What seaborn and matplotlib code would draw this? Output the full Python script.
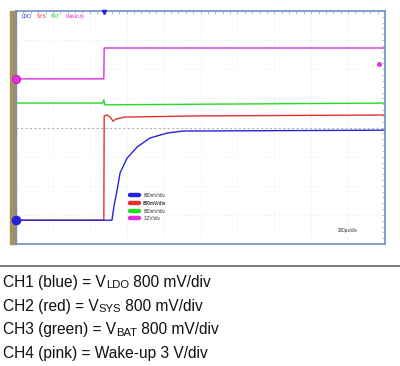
import matplotlib
matplotlib.use("Agg")
import matplotlib.pyplot as plt
import seaborn as sns
import pandas as pd

## scope traces: x in divisions (200us/div), y in divisions from screen centre
blue_t = [0, 2.60, 2.66, 2.74, 2.82, 3.01, 3.28, 3.63, 4.09, 4.53, 10]
blue_v = [-3.18, -3.18, -2.66, -2.15, -1.56, -1.05, -0.67, -0.36, -0.19, -0.12, -0.09]
red_t = [0, 2.38, 2.39, 2.47, 2.55, 2.63, 2.71, 2.95, 4.99, 10]
red_v = [-3.18, -3.18, 0.40, 0.43, 0.36, 0.22, 0.29, 0.36, 0.40, 0.43]
green_t = [0, 2.35, 2.38, 2.41, 10]
green_v = [0.84, 0.84, 0.95, 0.78, 0.84]
pink_t = [0, 2.38, 2.39, 10]
pink_v = [1.67, 1.67, 2.73, 2.73]

ch_names = ["LDO", "SYS", "BAT", "WakeUp"]
ch_scales = ["800mV/div", "800mV/div", "800mV/div", "3.2V/div"]
ch_colors = ["#2424d8", "#e53030", "#22dd22", "#e02ee0"]
timebase = "200\u00b5s/div"

# caption pieces: (text before subscript, subscript, text after)
caption = [
    ("CH1 (blue) = V", "LDO", " 800 mV/div"),
    ("CH2 (red) = V", "SYS", " 800 mV/div"),
    ("CH3 (green) = V", "BAT", " 800 mV/div"),
    ("CH4 (pink) = Wake-up 3 V/div", "", ""),
]

sns.set_style("white")
plt.rcParams['font.family'] = ['Liberation Sans', 'DejaVu Sans']

fig = plt.figure(figsize=(4, 3.66), dpi=100)
ax = fig.add_axes([0.04, 0.333, 0.9225, 0.637])

traces = [(blue_t, blue_v), (red_t, red_v), (green_t, green_v), (pink_t, pink_v)]
# draw order: pink, green, red, blue on top
for i in [3, 2, 1, 0]:
    t, v = traces[i]
    df = pd.DataFrame({"t": t, "v": v})
    sns.lineplot(data=df, x="t", y="v", ax=ax, color=ch_colors[i], lw=1.0,
                 sort=False, estimator=None)

ax.set_xlim(0, 10)
ax.set_ylim(-4, 4)
ax.set_xlabel("")
ax.set_ylabel("")

# faint graticule
for k in range(1, 10):
    ax.axvline(k, color="#e6e8ee", lw=0.6, ls=(0, (1, 2)), zorder=0)
for k in range(-3, 4):
    if k == 0:
        ax.axhline(0, color="#b4b4b4", lw=0.8, ls=(0, (2, 2)), zorder=0)
    else:
        ax.axhline(k, color="#e6e8ee", lw=0.6, ls=(0, (1, 2)), zorder=0)

ax.set_xticks([])
ax.set_yticks([])
ax.set_xticks([i * 0.2 for i in range(51)], minor=True)
ax.set_yticks([-4 + i * 0.2 for i in range(41)], minor=True)
ax.tick_params(which="minor", direction="in", length=2, color="#a8b4c8",
               top=True, right=True, labelbottom=False, labelleft=False)
for s in ax.spines.values():
    s.set_color("#7090c8")
    s.set_linewidth(1.2)

# tan strip on the left
ax.add_patch(plt.Rectangle((-0.017, 0), 0.017, 1, transform=ax.transAxes,
                           color="#a8905c", clip_on=False, zorder=1))

# channel markers and trigger
ax.plot(0, pink_v[0], "o", color=ch_colors[3], ms=6, clip_on=False, zorder=5,
        markeredgecolor="#b020b0", mew=0.6)
ax.plot(0, blue_v[0], "o", color=ch_colors[0], ms=6, clip_on=False, zorder=5)
ax.plot(pink_t[1], 3.97, "v", color="#2424d8", ms=3, clip_on=False, zorder=5)
ax.plot(9.85, 2.18, "o", color=ch_colors[3], ms=2.5, zorder=5)

# channel header
hx = [0.015, 0.055, 0.095, 0.135]
for i in range(4):
    ax.text(hx[i], 0.985, ch_names[i], transform=ax.transAxes, fontsize=3.5,
            color=ch_colors[i], va="top", ha="left")

# in-screen scale legend
ly = [-2.32, -2.59, -2.87, -3.11]
for i in range(4):
    ax.plot([3.10, 3.34], [ly[i], ly[i]], color=ch_colors[i], lw=3.2,
            solid_capstyle="round", zorder=6)
    ax.text(3.45, ly[i], ch_scales[i], fontsize=3.3, color="#303030",
            va="center", ha="left", fontweight="bold" if i == 1 else "normal")
ax.text(9.0, -3.52, timebase, fontsize=3.3, color="#303030", va="center", ha="center")

# divider and caption
fig.add_artist(plt.Line2D([0, 1], [1 - 266 / 366, 1 - 266 / 366], color="#707070", lw=1.3))
fig.canvas.draw()
renderer = fig.canvas.get_renderer()
fs = 11.2
for i, (pre, sub, post) in enumerate(caption):
    y = 1 - (287 + i * 23.7) / 366
    t1 = fig.text(0.008, y, pre, fontsize=fs, color="#101010", va="baseline", ha="left")
    if sub:
        x1 = t1.get_window_extent(renderer).x1 / fig.bbox.width
        t2 = fig.text(x1, y - 1.2 / 366, sub, fontsize=fs * 0.72, color="#101010",
                      va="baseline", ha="left")
        x2 = t2.get_window_extent(renderer).x1 / fig.bbox.width
        fig.text(x2, y, post, fontsize=fs, color="#101010", va="baseline", ha="left")

plt.savefig("out.png", dpi=100)
